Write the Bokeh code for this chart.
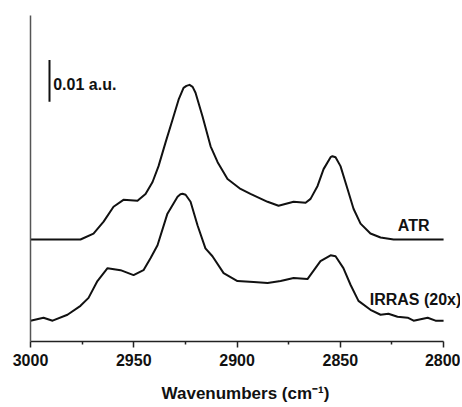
from bokeh.plotting import figure
from bokeh.models import Range1d, FixedTicker, Label
from bokeh.embed import file_html
from bokeh.resources import INLINE

# ---- data ----
atr_wn = [3000, 2975.8, 2969.5, 2964.6, 2959.8, 2955.0, 2948.2, 2944.3, 2940.9, 2938.0,
          2934.6, 2931.2, 2928.3, 2925.9, 2924.5, 2923.0, 2921.5, 2920.1, 2916.7, 2912.8,
          2909.4, 2904.6, 2898.3, 2893.5, 2885.2, 2879.9, 2872.6, 2866.8, 2864.4, 2861.0,
          2858.1, 2854.7, 2853.8, 2852.3, 2849.9, 2846.5, 2843.6, 2840.2, 2835.4, 2830.5,
          2824.2, 2800]
atr_abs = [0, 0, 1.43, 4.29, 7.86, 9.52, 9.29, 10.95, 13.81, 17.62,
           23.33, 28.81, 33.57, 36.43, 36.90, 37.14, 36.67, 35.24, 29.52, 22.38,
           18.57, 14.52, 12.14, 10.95, 9.05, 8.10, 9.05, 8.81, 9.76, 12.86,
           16.90, 19.76, 20.00, 19.76, 17.62, 12.14, 7.38, 3.81, 1.43, 0.48,
           0, 0]  # x1e-3 a.u.

irras_wn = [3000, 2993.7, 2989.3, 2982.1, 2975.8, 2971.9, 2967.6, 2962.7, 2956.4, 2950.1,
            2945.3, 2941.9, 2938.5, 2933.7, 2928.8, 2927.4, 2926.4, 2924.9, 2922.5, 2919.1,
            2915.3, 2911.9, 2906.5, 2899.8, 2892.0, 2885.2, 2878.9, 2872.6, 2865.9, 2861.0,
            2859.6, 2854.7, 2852.3, 2848.5, 2845.0, 2841.2, 2835.4, 2830.5, 2826.7, 2822.3,
            2817.4, 2814.5, 2807.7, 2803.9, 2800]
irras_abs_x20 = [0, 0.71, 0, 1.43, 3.57, 5.48, 9.52, 12.62, 12.14, 10.95,
                 12.14, 15.0, 18.10, 25.71, 29.76, 30.36, 30.48, 30.24, 28.57, 22.86,
                 17.38, 15.48, 11.43, 9.52, 9.29, 9.05, 9.52, 10.24, 10.0, 13.33,
                 14.29, 15.71, 15.48, 12.62, 8.57, 4.76, 2.62, 1.43, 1.67, 0.95,
                 0.71, 0, 0.71, 0, 0]  # x1e-3 a.u., already multiplied by 20

atr_offset = 0.0245
irras_offset = 0.0050
scale_bar = 0.01
x_ticks = [3000, 2950, 2900, 2850, 2800]
x_minor = [2975, 2925, 2875, 2825]

FONT = "Liberation Sans"
INK = "#111111"

p = figure(width=460, height=405, output_backend="svg", toolbar_location=None,
           x_range=Range1d(3000, 2791.8), y_range=Range1d(0, 0.0783),
           min_border_left=30, min_border_right=0, min_border_top=15, min_border_bottom=61)
p.outline_line_color = None
p.grid.visible = False
p.background_fill_color = "white"
p.border_fill_color = "white"

p.line(atr_wn, [a * 1e-3 + atr_offset for a in atr_abs],
       line_color=INK, line_width=2, line_join="round")
p.line(irras_wn, [a * 1e-3 + irras_offset for a in irras_abs_x20],
       line_color=INK, line_width=2, line_join="round")

# scale bar
p.segment(x0=[2990.8], y0=[0.0576], x1=[2990.8], y1=[0.0576 + scale_bar],
          line_color=INK, line_width=2)
p.add_layout(Label(x=2989.0, y=0.0617, text="0.01 a.u.", text_font=FONT,
                   text_font_style="bold", text_font_size="16px",
                   text_baseline="middle", text_align="left", text_color=INK))
p.add_layout(Label(x=2814.5, y=0.0279, text="ATR", text_font=FONT,
                   text_font_style="bold", text_font_size="16px",
                   text_baseline="middle", text_align="center", text_color=INK))
p.add_layout(Label(x=2813.6, y=0.0102, text="IRRAS (20x)", text_font=FONT,
                   text_font_style="bold", text_font_size="16px",
                   text_baseline="middle", text_align="center", text_color=INK))

# x axis
xa = p.xaxis[0]
xa.bounds = (2800, 3000)
xa.ticker = FixedTicker(ticks=x_ticks, minor_ticks=x_minor)
xa.axis_label = "Wavenumbers (cm\u207b\u00b9)"
xa.axis_label_text_font = FONT
xa.axis_label_text_font_style = "bold"
xa.axis_label_text_font_size = "17px"
xa.axis_label_text_color = INK
xa.axis_label_standoff = 15
xa.major_label_text_font = FONT
xa.major_label_text_font_style = "bold"
xa.major_label_text_font_size = "16px"
xa.major_label_text_color = INK
xa.major_label_standoff = 6
xa.axis_line_color = "#222222"
xa.axis_line_width = 1.5
xa.major_tick_line_color = "#222222"
xa.major_tick_line_width = 1.5
xa.major_tick_in = 0
xa.major_tick_out = 6
xa.minor_tick_line_color = "#222222"
xa.minor_tick_line_width = 1.5
xa.minor_tick_in = 0
xa.minor_tick_out = 3

# y axis: bare line
ya = p.yaxis[0]
ya.ticker = FixedTicker(ticks=[])
ya.major_tick_line_color = None
ya.minor_tick_line_color = None
ya.major_label_text_font_size = "0px"
ya.axis_line_color = "#555555"
ya.axis_line_width = 1.5

open("out.html", "w").write(file_html(p, INLINE))
